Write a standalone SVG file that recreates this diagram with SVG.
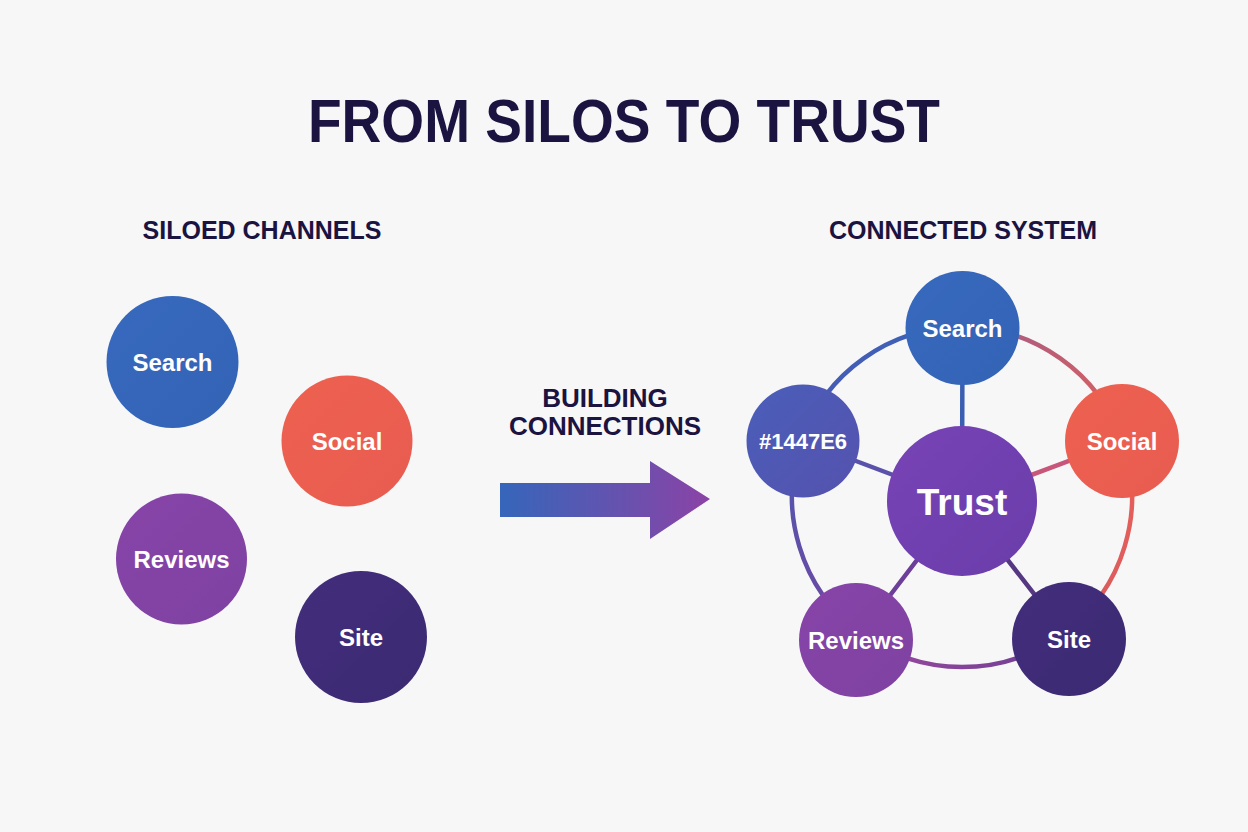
<svg xmlns="http://www.w3.org/2000/svg" width="1248" height="832" viewBox="0 0 1248 832">
<defs>
<style>
.title{font-family:"Liberation Sans",Arial,sans-serif;font-weight:700;fill:#1B1340}
.sub{font-family:"Liberation Sans",Arial,sans-serif;font-weight:700;fill:#1B1340;font-size:25px;text-anchor:middle}
.lbl{font-family:"Liberation Sans",Arial,sans-serif;font-weight:700;fill:#FFFFFF;font-size:24px;text-anchor:middle}
.ring{fill:none;stroke-width:4.5;stroke-linecap:round}
.spoke{stroke-width:4.5;stroke-linecap:round}
</style>
<linearGradient id="gSearch" x1="0" y1="0" x2="1" y2="1"><stop offset="0" stop-color="#3769BE"/><stop offset="1" stop-color="#3363B5"/></linearGradient>
<linearGradient id="gSocial" x1="0" y1="0" x2="1" y2="1"><stop offset="0" stop-color="#EE6150"/><stop offset="1" stop-color="#E85C50"/></linearGradient>
<linearGradient id="gReviews" x1="0" y1="0" x2="1" y2="1"><stop offset="0" stop-color="#8744A8"/><stop offset="1" stop-color="#7E42A2"/></linearGradient>
<linearGradient id="gSite" x1="0" y1="0" x2="1" y2="1"><stop offset="0" stop-color="#432D7C"/><stop offset="1" stop-color="#3B2A72"/></linearGradient>
<linearGradient id="gHex" x1="0" y1="0" x2="1" y2="1"><stop offset="0" stop-color="#4A5EB9"/><stop offset="1" stop-color="#5552AE"/></linearGradient>
<linearGradient id="gTrust" x1="0" y1="0" x2="1" y2="1"><stop offset="0" stop-color="#7843B6"/><stop offset="1" stop-color="#6A3DAA"/></linearGradient>
<linearGradient id="gArrow" gradientUnits="userSpaceOnUse" x1="500" y1="0" x2="710" y2="0"><stop offset="0" stop-color="#3566BA"/><stop offset="1" stop-color="#8B43A6"/></linearGradient>
<linearGradient id="a1" gradientUnits="userSpaceOnUse" x1="962" y1="327" x2="1122" y2="441"><stop offset="0" stop-color="#A05C88"/><stop offset="1" stop-color="#E0605C"/></linearGradient>
<linearGradient id="a2" gradientUnits="userSpaceOnUse" x1="1122" y1="441" x2="1064" y2="633"><stop offset="0" stop-color="#E8615A"/><stop offset="1" stop-color="#D85A5E"/></linearGradient>
<linearGradient id="a3" gradientUnits="userSpaceOnUse" x1="1064" y1="633" x2="860" y2="633"><stop offset="0" stop-color="#6E3E92"/><stop offset="1" stop-color="#9A4AA0"/></linearGradient>
<linearGradient id="a4" gradientUnits="userSpaceOnUse" x1="860" y1="633" x2="802" y2="441"><stop offset="0" stop-color="#7046A0"/><stop offset="1" stop-color="#5058B0"/></linearGradient>
<linearGradient id="a5" gradientUnits="userSpaceOnUse" x1="802" y1="441" x2="962" y2="327"><stop offset="0" stop-color="#4A5AB2"/><stop offset="1" stop-color="#3A62B8"/></linearGradient>
</defs>
<rect width="1248" height="832" fill="#F7F7F8"/>
<text class="title" x="624" y="142" style="font-size:62px" text-anchor="middle" textLength="632" lengthAdjust="spacingAndGlyphs">FROM SILOS TO TRUST</text>
<text class="sub" x="262" y="239">SILOED CHANNELS</text>
<text class="sub" x="963" y="239">CONNECTED SYSTEM</text>
<g id="left-search"><circle cx="172.5" cy="362" r="66" fill="url(#gSearch)"/><text class="lbl" x="172.5" y="370.5">Search</text></g>
<g id="left-social"><circle cx="347" cy="441" r="65.5" fill="url(#gSocial)"/><text class="lbl" x="347" y="449.5">Social</text></g>
<g id="left-reviews"><circle cx="181.5" cy="559" r="65.5" fill="url(#gReviews)"/><text class="lbl" x="181.5" y="567.5">Reviews</text></g>
<g id="left-site"><circle cx="361" cy="637" r="66" fill="url(#gSite)"/><text class="lbl" x="361" y="645.5">Site</text></g>
<g id="arrow">
<text class="sub" x="605" y="407" style="font-size:26px">BUILDING</text>
<text class="sub" x="605" y="435" style="font-size:26px">CONNECTIONS</text>
<path d="M500 483 H650 V461 L710 499 L650 539 V517 H500 Z" fill="url(#gArrow)"/>
</g>
<g id="connectors">
<path class="ring" stroke="url(#a1)" d="M962 327 A170 170 0 0 1 1122.4 440.8"/>
<path class="ring" stroke="url(#a2)" d="M1122.4 440.8 A170 170 0 0 1 1064.3 632.8"/>
<path class="ring" stroke="url(#a3)" d="M1064.3 632.8 A170 170 0 0 1 859.7 632.8"/>
<path class="ring" stroke="url(#a4)" d="M859.7 632.8 A170 170 0 0 1 801.6 440.8"/>
<path class="ring" stroke="url(#a5)" d="M801.6 440.8 A170 170 0 0 1 962 327"/>
<line class="spoke" x1="962" y1="501" x2="962.5" y2="328" stroke="#3A5EB2"/>
<line class="spoke" x1="962" y1="501" x2="803" y2="441" stroke="#5A52AA"/>
<line class="spoke" x1="962" y1="501" x2="1122" y2="441" stroke="#C8567A"/>
<line class="spoke" x1="962" y1="501" x2="856" y2="640" stroke="#6C4098"/>
<line class="spoke" x1="962" y1="501" x2="1069" y2="639" stroke="#563882"/>
</g>
<g id="search"><circle cx="962.5" cy="328" r="57" fill="url(#gSearch)"/><text class="lbl" x="962.5" y="336.5">Search</text></g>
<g id="social"><circle cx="1122" cy="441" r="57" fill="url(#gSocial)"/><text class="lbl" x="1122" y="449.5">Social</text></g>
<g id="hex"><circle cx="803" cy="441" r="56.5" fill="url(#gHex)"/><text class="lbl" x="803" y="449" style="font-size:22px">#1447E6</text></g>
<g id="trust"><circle cx="962" cy="501" r="75" fill="url(#gTrust)"/><text class="lbl" x="962" y="515" style="font-size:37px">Trust</text></g>
<g id="reviews"><circle cx="856" cy="640" r="57" fill="url(#gReviews)"/><text class="lbl" x="856" y="648.5">Reviews</text></g>
<g id="site"><circle cx="1069" cy="639" r="57" fill="url(#gSite)"/><text class="lbl" x="1069" y="647.5">Site</text></g>
</svg>
